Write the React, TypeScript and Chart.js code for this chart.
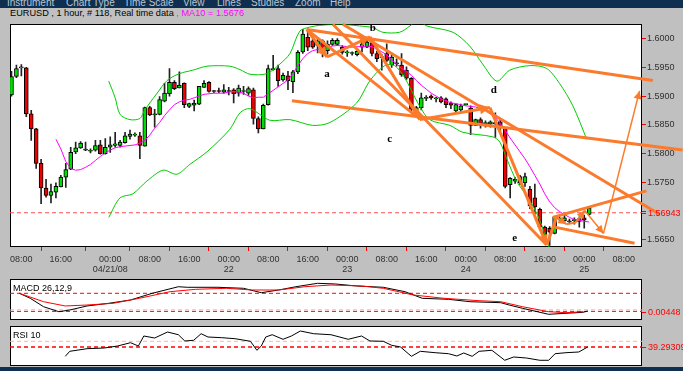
import React, { useEffect, useRef } from 'react';
import { Chart, registerables } from 'chart.js';
Chart.register(...registerables);

// ---------- data ----------
const opens = [1.5902,1.5934,1.5949,1.5949,1.5869,1.5843,1.5783,1.5740,1.5727,1.5733,1.5742,1.5759,1.5773,1.5803,1.5810,1.5807,1.5804,1.5806,1.5815,1.5800,1.5811,1.5814,1.5814,1.5819,1.5830,1.5832,1.5831,1.5813,1.5880,1.5867,1.5868,1.5891,1.5904,1.5924,1.5914,1.5922,1.5882,1.5884,1.5886,1.5915,1.5924,1.5908,1.5909,1.5907,1.5909,1.5911,1.5905,1.5908,1.5905,1.5911,1.5861,1.5843,1.5885,1.5946,1.5948,1.5928,1.5935,1.5925,1.5942,1.5977,1.6002,1.5996,1.5988,1.5996,1.5979,1.5990,1.5990,1.5985,1.5975,1.5974,1.5972,1.5985,1.5985,1.5993,1.5974,1.5967,1.5974,1.5954,1.5957,1.5954,1.5945,1.5931,1.5877,1.5880,1.5896,1.5900,1.5895,1.5897,1.5895,1.5888,1.5874,1.5876,1.5885,1.5879,1.5849,1.5859,1.5852,1.5851,1.5852,1.5855,1.5843,1.5746,1.5752,1.5749,1.5749,1.5738,1.5723,1.5703,1.5672,1.5670,1.5661,1.5686,1.5683,1.5682,1.5683,1.5682,1.5688,1.5694];
const highs = [1.5943,1.5954,1.5955,1.5950,1.5875,1.5844,1.5790,1.5755,1.5747,1.5749,1.5762,1.5783,1.5811,1.5820,1.5821,1.5820,1.5808,1.5823,1.5823,1.5826,1.5829,1.5837,1.5823,1.5837,1.5841,1.5836,1.5837,1.5881,1.5882,1.5877,1.5899,1.5922,1.5948,1.5927,1.5942,1.5923,1.5888,1.5893,1.5917,1.5927,1.5925,1.5910,1.5914,1.5920,1.5915,1.5913,1.5919,1.5917,1.5916,1.5914,1.5864,1.5886,1.5954,1.5971,1.5954,1.5940,1.5943,1.5945,1.5979,1.6016,1.6015,1.5999,1.5999,1.5998,1.5996,1.6000,1.6000,1.5988,1.5979,1.5977,1.5980,1.5996,1.6000,1.5996,1.5978,1.5972,1.5991,1.5975,1.5965,1.5974,1.5951,1.5932,1.5882,1.5905,1.5901,1.5902,1.5898,1.5899,1.5897,1.5890,1.5886,1.5886,1.5886,1.5883,1.5860,1.5862,1.5857,1.5857,1.5871,1.5860,1.5845,1.5758,1.5758,1.5762,1.5766,1.5743,1.5747,1.5705,1.5674,1.5673,1.5690,1.5690,1.5692,1.5686,1.5688,1.5690,1.5693,1.5708];
const lows = [1.5900,1.5932,1.5935,1.5864,1.5823,1.5774,1.5713,1.5724,1.5714,1.5723,1.5742,1.5741,1.5772,1.5800,1.5809,1.5805,1.5801,1.5804,1.5799,1.5799,1.5802,1.5811,1.5811,1.5818,1.5825,1.5830,1.5791,1.5813,1.5866,1.5846,1.5867,1.5890,1.5900,1.5911,1.5914,1.5880,1.5880,1.5874,1.5885,1.5915,1.5907,1.5906,1.5906,1.5905,1.5902,1.5888,1.5900,1.5903,1.5901,1.5851,1.5836,1.5843,1.5884,1.5945,1.5917,1.5926,1.5911,1.5906,1.5939,1.5974,1.5979,1.5983,1.5975,1.5968,1.5973,1.5988,1.5988,1.5973,1.5969,1.5971,1.5970,1.5977,1.5984,1.5970,1.5960,1.5945,1.5960,1.5950,1.5952,1.5934,1.5929,1.5874,1.5868,1.5876,1.5892,1.5894,1.5890,1.5888,1.5880,1.5878,1.5870,1.5872,1.5884,1.5833,1.5849,1.5844,1.5846,1.5846,1.5828,1.5840,1.5740,1.5723,1.5748,1.5746,1.5743,1.5704,1.5695,1.5667,1.5649,1.5640,1.5660,1.5682,1.5680,1.5678,1.5677,1.5672,1.5670,1.5693];
const closes = [1.5934,1.5948,1.5950,1.5869,1.5843,1.5783,1.5740,1.5727,1.5734,1.5743,1.5759,1.5772,1.5802,1.5810,1.5818,1.5806,1.5805,1.5814,1.5800,1.5811,1.5815,1.5817,1.5820,1.5831,1.5834,1.5833,1.5814,1.5880,1.5867,1.5869,1.5894,1.5905,1.5924,1.5913,1.5919,1.5885,1.5887,1.5888,1.5917,1.5922,1.5908,1.5909,1.5908,1.5911,1.5908,1.5904,1.5914,1.5909,1.5913,1.5861,1.5843,1.5884,1.5948,1.5948,1.5927,1.5936,1.5927,1.5942,1.5976,1.6008,1.5985,1.5985,1.5996,1.5979,1.5990,1.5997,1.5997,1.5976,1.5977,1.5974,1.5978,1.5991,1.5994,1.5974,1.5965,1.5968,1.5962,1.5968,1.5956,1.5937,1.5931,1.5877,1.5880,1.5897,1.5897,1.5897,1.5896,1.5890,1.5885,1.5884,1.5885,1.5883,1.5885,1.5849,1.5859,1.5849,1.5853,1.5855,1.5853,1.5845,1.5743,1.5757,1.5755,1.5760,1.5760,1.5709,1.5707,1.5672,1.5655,1.5663,1.5689,1.5687,1.5688,1.5681,1.5685,1.5687,1.5684,1.5705];

const ma10Start = 9;
const ma10 = [1.5825,1.5808,1.5786,1.5774,1.5771,1.5772,1.5776,1.5781,1.5788,1.5795,1.5801,1.5806,1.5810,1.5812,1.5813,1.5814,1.5815,1.5818,1.5823,1.5832,1.5844,1.5854,1.5866,1.5876,1.5885,1.5890,1.5893,1.5894,1.5897,1.5900,1.5903,1.5904,1.5905,1.5905,1.5905,1.5907,1.5908,1.5907,1.5905,1.5900,1.5897,1.5898,1.5898,1.5904,1.5910,1.5916,1.5922,1.5928,1.5939,1.5953,1.5965,1.5974,1.5979,1.5981,1.5983,1.5985,1.5987,1.5988,1.5987,1.5986,1.5985,1.5986,1.5986,1.5987,1.5986,1.5982,1.5977,1.5972,1.5963,1.5956,1.5948,1.5943,1.5936,1.5927,1.5919,1.5912,1.5905,1.5900,1.5895,1.5892,1.5888,1.5887,1.5885,1.5883,1.5882,1.5881,1.5878,1.5875,1.5869,1.5863,1.5852,1.5840,1.5827,1.5815,1.5803,1.5791,1.5777,1.5762,1.5747,1.5730,1.5716,1.5706,1.5699,1.5694,1.5689,1.5685,1.5684,1.5682,1.5681];

const upperX = [19.7,21,22,24,26,27,29.5,31.5,34,36.7,39.6,44.2,46.3,48.3,51.7,54.4,56.4,58.4,60.4,62.4,66.5,70.5,73.2,75.2,78.6,80.7,82.3,84.1,89.4,92.8,95.4,98.3,100.9,105,108.4,111,113.7,116.5];
const upperY = [1.5926,1.5897,1.5868,1.5859,1.5861,1.5876,1.5905,1.5927,1.5939,1.5945,1.5952,1.5952,1.5946,1.5938,1.5939,1.5956,1.5974,1.6013,1.6020,1.6023,1.6025,1.6022,1.6019,1.6011,1.6011,1.6022,1.6032,1.6022,1.6011,1.5987,1.5956,1.5926,1.5945,1.5953,1.5948,1.5922,1.5883,1.5825];
const lowerX = [19.7,22,24.6,27.4,30.7,33.5,36.1,39.6,44.2,46.3,48.3,52.3,56.4,61,64.5,69.9,72.6,75.6,77.6,79.7,82.3,84.7,88.8,91.4,97.5,98.9,100.3,102.3,105,107,108.4,109.4];
const lowerY = [1.5689,1.5723,1.5730,1.5752,1.5771,1.5764,1.5781,1.5803,1.5842,1.5871,1.5878,1.5858,1.5859,1.5849,1.5854,1.5888,1.5927,1.5953,1.5953,1.5931,1.5888,1.5859,1.5849,1.5837,1.5829,1.5820,1.5791,1.5752,1.5718,1.5684,1.5649,1.5624];

const lastPrice = 1.5697;
const lastPriceLabel = '1.56943';
const yTicks = [1.565, 1.57, 1.575, 1.58, 1.585, 1.59, 1.595, 1.6];
const hiddenYLabel = 1.57;

const xTickPos = [2,10,20,28,36,44,52,60,68,76,84,92,100,108,116,124];
const xTickTime = ['08:00','16:00','00:00','08:00','16:00','00:00','08:00','16:00','00:00','08:00','16:00','00:00','08:00','16:00','00:00','08:00'];
const xTickDate = ['','','04/21/08','','','22','','','23','','','24','','','25',''];

// trend-line annotations (bar index, price)
const segFromX = [59.8,56.8,67.1,65.1,59.8,59.8,63.9,72.6,82.7,96.9,108.4,109.6,110,110.4,112.4,114.3,116.1,119.9];
const segFromY = [1.6016,1.5892,1.6025,1.6025,1.6016,1.6016,1.5968,1.6003,1.5859,1.5880,1.5641,1.5689,1.5672,1.5689,1.5677,1.5680,1.5701,1.5661];
const segToX = [129.9,135.9,131.3,108.4,82.3,63.9,72.6,82.7,96.9,108.4,110.4,128.6,126.2,112.4,114.3,116.1,119.9,127.2];
const segToY = [1.5927,1.5806,1.5694,1.5641,1.5863,1.5968,1.6003,1.5859,1.5880,1.5641,1.5689,1.5735,1.5644,1.5677,1.5680,1.5701,1.5661,1.5909];
const segArrow = [0,0,0,0,0,1,1,1,1,1,0,0,0,1,0,1,1,1];
const segWidth = [3,3,3,3,3,3,3,3,3,3,3,3,3,2,2,2,1.5,1.5];

const waveLetters = ['a','b','c','d','e'];
const waveX = [63.9,73.2,76.6,97.7,101.9];
const waveY = [1.5938,1.6018,1.5825,1.5910,1.5653];

const macdX = [1.6,3.8,6.5,9.6,11.8,15.3,19.7,24.1,28.5,33.8,35.6,41.8,47,50.6,54.1,57.6,62,65.6,69.9,75.3,79.7,83.2,88.5,92.9,99.1,100.8,103.5,108.8,112.3,115.8,116.7];
const macdY = [0,-0.00123,-0.0033,-0.00453,-0.00411,-0.00312,-0.00246,-0.00165,0,0.00162,0.00148,0.00148,0.00123,0.00015,0.00081,0.00162,0.00246,0.00229,0.0018,0.00148,0.00039,-0.00123,-0.00148,-0.00207,-0.00231,-0.00288,-0.00369,-0.00517,-0.00492,-0.00467,-0.00435];
const signalX = [1.6,6.5,10.9,15.3,20.6,25.9,32.1,37.3,43.5,48.8,54.1,59.4,64.7,70.9,75.3,81.4,87.6,94.7,99.1,103.5,108.8,112.3,115.8];
const signalY = [0,-0.00207,-0.00312,-0.00288,-0.00246,-0.00123,0.00039,0.00098,0.00123,0.00081,0.00081,0.00162,0.00204,0.0018,0.00123,-0.00042,-0.00123,-0.00182,-0.00207,-0.0033,-0.00453,-0.00477,-0.00453];
const macdLevels = [0, -0.0041, -0.00448];
const macdLabel = '0.00448';

const rsiX = [10.9,11.8,15.3,18.8,21.5,24.1,25.7,26.8,29,31.6,33.8,35.1,36.9,38.4,39.8,42.6,45.3,48.4,49.7,50.6,51.5,52.8,55,56.7,58.5,61.2,64.7,68.2,70.9,72.6,75.3,77,78.8,81,82.8,85.8,88.5,90.2,91.6,93.3,94.7,97.3,99.9,101.7,104.3,107,108.8,110.1,112.3,114.9,116.7];
const rsiY = [21.8,31.2,36.1,37.4,41.2,47.4,41.2,60,56.2,67.5,62.4,50.6,51.9,64.3,58.1,56.8,54.9,50,33.1,41.2,58.1,62.4,53.8,60,69.4,64.3,62.4,53.8,60,50.6,50,42.5,39.3,21.8,31.2,28.6,26.7,22.4,28,21.8,31.2,33.1,14.3,20.5,18.6,14.3,14.3,26.7,28.6,29.9,39.3];
const rsiLevels = [50, 39.29309];
const rsiLabel = '39.29309';

// ---------- styling ----------
const X_MIN = -0.3, X_MAX = 127.7;
const ORANGE = '#fb7a2b';
const FONT = "'Liberation Sans', Arial, sans-serif";

const framePlugin = {
  id: 'frame',
  beforeDraw(chart: any) {
    const { ctx, chartArea: a } = chart;
    ctx.save();
    ctx.fillStyle = '#ffffff';
    ctx.fillRect(a.left, a.top, a.right - a.left, a.bottom - a.top);
    ctx.restore();
  },
  beforeDatasetsDraw(chart: any) {
    const { ctx, chartArea: a } = chart;
    ctx.save();
    ctx.strokeStyle = '#000';
    ctx.lineWidth = 1;
    ctx.strokeRect(Math.round(a.left) + 0.5, Math.round(a.top) + 0.5, Math.round(a.right - a.left) - 1, Math.round(a.bottom - a.top) - 1);
    ctx.restore();
  },
};

function sideLabel(value: number, text: string, title: string) {
  return {
    id: 'side' + title.replace(/[^A-Za-z]/g, ''),
    afterDraw(chart: any) {
      const { ctx, chartArea: a } = chart;
      const y = Math.round(chart.scales.y.getPixelForValue(value)) + 0.5;
      ctx.save();
      ctx.strokeStyle = '#ff0000';
      ctx.beginPath();
      ctx.moveTo(a.right, y);
      ctx.lineTo(a.right + 4, y);
      ctx.stroke();
      ctx.fillStyle = '#ff0000';
      ctx.font = '9px ' + FONT;
      ctx.textBaseline = 'middle';
      ctx.fillText(text, a.right + 6, y);
      if (title) {
        ctx.fillStyle = '#000';
        ctx.font = '9px ' + FONT;
        ctx.textBaseline = 'top';
        ctx.fillText(title, a.left + 3, a.top + 5);
      }
      ctx.restore();
    },
  };
}

const annotPlugin = {
  id: 'annot',
  afterDatasetsDraw(chart: any) {
    const { ctx } = chart;
    const xs = chart.scales.x, ys = chart.scales.y;
    ctx.save();
    ctx.fillStyle = ORANGE;
    for (let k = 0; k < segFromX.length; k++) {
      if (!segArrow[k]) continue;
      const x1 = xs.getPixelForValue(segFromX[k]), y1 = ys.getPixelForValue(segFromY[k]);
      const x2 = xs.getPixelForValue(segToX[k]), y2 = ys.getPixelForValue(segToY[k]);
      const ang = Math.atan2(y2 - y1, x2 - x1);
      const len = segWidth[k] >= 3 ? 10 : 8;
      const half = segWidth[k] >= 3 ? 5 : 4;
      const c = Math.cos(ang), s = Math.sin(ang);
      ctx.beginPath();
      ctx.moveTo(x2, y2);
      ctx.lineTo(x2 - len * c + half * s, y2 - len * s - half * c);
      ctx.lineTo(x2 - len * c - half * s, y2 - len * s + half * c);
      ctx.closePath();
      ctx.fill();
    }
    ctx.fillStyle = '#000';
    ctx.font = "bold 11px 'Liberation Serif', serif";
    ctx.textAlign = 'center';
    ctx.textBaseline = 'middle';
    waveLetters.forEach((t, k) => {
      ctx.fillText(t, xs.getPixelForValue(waveX[k]), ys.getPixelForValue(waveY[k]));
    });
    ctx.restore();
  },
};

const flatLine = (v: number) => [{ x: X_MIN, y: v }, { x: X_MAX, y: v }];

export default function App() {
  const mainRef = useRef<HTMLCanvasElement>(null);
  const macdRef = useRef<HTMLCanvasElement>(null);
  const rsiRef = useRef<HTMLCanvasElement>(null);

  useEffect(() => {
    const idx = opens.map((_, i) => i);
    const segDatasets = segFromX.map((_, k) => ({
      type: 'line',
      data: [{ x: segFromX[k], y: segFromY[k] }, { x: segToX[k], y: segToY[k] }],
      borderColor: ORANGE,
      borderWidth: segWidth[k],
      pointRadius: 0,
      clip: false,
      order: 0,
    }));
    const main = new Chart(mainRef.current!, {
      type: 'bar',
      data: {
        datasets: [
          {
            type: 'bar',
            data: idx.map((i) => ({ x: i, y: [lows[i], highs[i]] })),
            backgroundColor: '#222',
            barThickness: 1,
            grouped: false,
            order: 4,
          } as any,
          {
            type: 'bar',
            data: idx.map((i) => ({ x: i, y: [opens[i], closes[i]] })),
            backgroundColor: idx.map((i) => (closes[i] >= opens[i] ? '#00dd00' : '#ee0000')),
            borderColor: '#000',
            borderWidth: 1,
            borderSkipped: false,
            barThickness: 4,
            minBarLength: 1,
            grouped: false,
            order: 3,
          },
          {
            type: 'line',
            data: ma10.map((v, k) => ({ x: ma10Start + k, y: v })),
            borderColor: '#ff00ff',
            borderWidth: 1,
            pointRadius: 0,
            order: 2,
          },
          {
            type: 'line',
            data: upperX.map((x, k) => ({ x, y: upperY[k] })),
            borderColor: '#00cc00',
            borderWidth: 1,
            pointRadius: 0,
            tension: 0.3,
            order: 2,
          },
          {
            type: 'line',
            data: lowerX.map((x, k) => ({ x, y: lowerY[k] })),
            borderColor: '#00cc00',
            borderWidth: 1,
            pointRadius: 0,
            tension: 0.3,
            order: 2,
          },
          {
            type: 'line',
            data: flatLine(lastPrice),
            borderColor: '#ff5050',
            borderWidth: 1,
            borderDash: [4, 3],
            pointRadius: 0,
            order: 5,
          },
          ...segDatasets,
        ] as any,
      },
      options: {
        animation: false,
        responsive: false,
        maintainAspectRatio: false,
        layout: { padding: { left: 10, top: 2, right: 0, bottom: 0 } },
        plugins: { legend: { display: false }, tooltip: { enabled: false } },
        scales: {
          x: {
            type: 'linear',
            min: X_MIN,
            max: X_MAX,
            offset: false,
            afterBuildTicks: (s: any) => { s.ticks = xTickPos.map((v) => ({ value: v })); },
            afterFit: (s: any) => { s.height = 31; },
            ticks: {
              autoSkip: false,
              maxRotation: 0,
              padding: 3,
              color: '#303030',
              font: { family: FONT, size: 9, lineHeight: 1.12 },
              callback: (_v: any, i: number) => (xTickDate[i] ? [xTickTime[i], xTickDate[i]] : xTickTime[i]),
            },
            grid: { drawOnChartArea: false, drawTicks: true, tickLength: 4, color: '#ff0000' },
            border: { display: false },
          },
          y: {
            type: 'linear',
            position: 'right',
            min: 1.56374,
            max: 1.60247,
            afterBuildTicks: (s: any) => { s.ticks = yTicks.map((v) => ({ value: v })); },
            afterFit: (s: any) => { s.width = 41; },
            ticks: {
              padding: 1,
              color: '#303030',
              font: { family: FONT, size: 9 },
              callback: (v: any) => (Math.abs(v - hiddenYLabel) < 1e-6 ? '' : Number(v).toFixed(4)),
            },
            grid: { drawOnChartArea: false, drawTicks: true, tickLength: 4, color: '#ff0000' },
            border: { display: false },
          },
        },
      } as any,
      plugins: [framePlugin, annotPlugin, sideLabel(lastPrice, lastPriceLabel, '')],
    });

    const panelOptions = (min: number, max: number) => ({
      animation: false,
      responsive: false,
      maintainAspectRatio: false,
      layout: { padding: { left: 10, top: 1, right: 41, bottom: 1 } },
      plugins: { legend: { display: false }, tooltip: { enabled: false } },
      scales: {
        x: { type: 'linear', min: X_MIN, max: X_MAX, display: false },
        y: { type: 'linear', min, max, display: false },
      },
    });

    const macd = new Chart(macdRef.current!, {
      type: 'line',
      data: {
        datasets: [
          { data: flatLine(macdLevels[0]), borderColor: '#ff0000', borderWidth: 1, borderDash: [4, 3], pointRadius: 0 },
          { data: flatLine(macdLevels[1]), borderColor: '#ff9a9a', borderWidth: 1, borderDash: [4, 3], pointRadius: 0 },
          { data: flatLine(macdLevels[2]), borderColor: '#ff2020', borderWidth: 1, borderDash: [4, 3], pointRadius: 0 },
          { data: signalX.map((x, k) => ({ x, y: signalY[k] })), borderColor: '#ff0000', borderWidth: 1, pointRadius: 0, order: -1 },
          { data: macdX.map((x, k) => ({ x, y: macdY[k] })), borderColor: '#000000', borderWidth: 1, pointRadius: 0, order: -1 },
        ] as any,
      },
      options: panelOptions(-0.00657, 0.00352) as any,
      plugins: [framePlugin, sideLabel(macdLevels[2], macdLabel, 'MACD 26,12,9')],
    });

    const rsi = new Chart(rsiRef.current!, {
      type: 'line',
      data: {
        datasets: [
          { data: flatLine(rsiLevels[0]), borderColor: '#ffb0b0', borderWidth: 1, borderDash: [4, 3], pointRadius: 0 },
          { data: flatLine(rsiLevels[1]), borderColor: '#ff0000', borderWidth: 1.5, borderDash: [4, 3], pointRadius: 0 },
          { data: rsiX.map((x, k) => ({ x, y: rsiY[k] })), borderColor: '#000000', borderWidth: 1, pointRadius: 0, order: -1 },
        ] as any,
      },
      options: panelOptions(3.56, 78.8) as any,
      plugins: [framePlugin, sideLabel(rsiLevels[1], rsiLabel, 'RSI 10')],
    });

    return () => { main.destroy(); macd.destroy(); rsi.destroy(); };
  }, []);

  const menu = [
    ['Instrument', 7], ['Chart Type', 66], ['Time Scale', 124], ['View', 183],
    ['Lines', 217], ['Studies', 251], ['Zoom', 295], ['Help', 330],
  ] as [string, number][];

  return (
    <div style={{ position: 'fixed', left: 0, top: 0, width: 683, height: 371, background: '#c0c0c0', overflow: 'hidden', fontFamily: FONT }}>
      <div style={{ position: 'absolute', left: 0, top: 0, width: 683, height: 8, background: '#0f2f50', overflow: 'hidden' }}>
        {menu.map(([t, x]) => (
          <span key={t} style={{ position: 'absolute', left: x, top: -2, fontSize: 10, lineHeight: '10px', color: '#b8c6d4', whiteSpace: 'nowrap' }}>{t}</span>
        ))}
      </div>
      <div style={{ position: 'absolute', left: 10, top: 8, fontSize: 9.2, lineHeight: '11px', whiteSpace: 'nowrap', color: '#000' }}>
        EURUSD , 1 hour, # 118, Real time data<span style={{ color: '#ff00ff' }}> , MA10 = 1.5676</span>
      </div>
      <canvas ref={mainRef} width={683} height={260} style={{ position: 'absolute', left: 0, top: 18, width: 683, height: 260 }} />
      <canvas ref={macdRef} width={683} height={43} style={{ position: 'absolute', left: 0, top: 278, width: 683, height: 43 }} />
      <canvas ref={rsiRef} width={683} height={42} style={{ position: 'absolute', left: 0, top: 325, width: 683, height: 42 }} />
      <div style={{ position: 'absolute', left: 0, top: 367, width: 683, height: 4, background: '#0f2f50' }} />
    </div>
  );
}
